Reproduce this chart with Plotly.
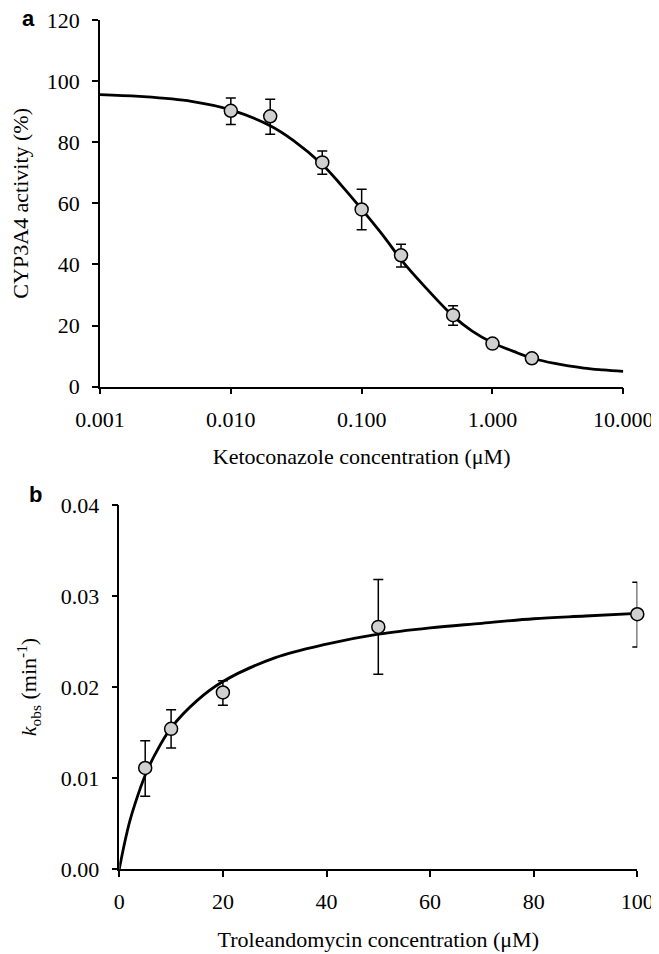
import plotly.graph_objects as go

# panel a: ketoconazole inhibition of CYP3A4
keto_conc = [0.01, 0.02, 0.05, 0.1, 0.2, 0.5, 1.0, 2.0]
keto_activity = [90.3, 88.5, 73.4, 58.0, 43.0, 23.4, 14.1, 9.3]
keto_err_up = [4.2, 5.6, 3.7, 6.6, 3.6, 3.1, 1.0, 0.8]
keto_err_down = [4.5, 5.9, 3.9, 6.6, 3.8, 3.3, 1.0, 0.8]

keto_fit_x = [0.001, 0.002, 0.005, 0.01, 0.02, 0.03, 0.05, 0.07, 0.1, 0.15, 0.2, 0.3,
              0.5, 0.7, 1.0, 1.5, 2.0, 3.0, 5.0, 7.0, 10.0]
keto_fit_y = [95.6, 95.0, 93.4, 90.6, 85.4, 80.6, 72.7, 65.9, 58.1, 48.8, 41.6, 33.0,
              23.1, 18.2, 14.4, 11.3, 9.4, 7.6, 6.1, 5.5, 5.0]

# panel b: troleandomycin kobs
tao_conc = [5, 10, 20, 50, 100]
tao_kobs = [0.0111, 0.0154, 0.0194, 0.0266, 0.0280]
tao_err_up = [0.0030, 0.0021, 0.0013, 0.0052, 0.0035]
tao_err_down = [0.0031, 0.0021, 0.0014, 0.0052, 0.0036]

tao_fit_x = [0, 1, 2, 3, 5, 7, 10, 15, 20, 30, 40, 50, 60, 70, 80, 90, 100]
tao_fit_y = [0, 0.0028, 0.0052, 0.0071, 0.0103, 0.0127, 0.0155, 0.0185, 0.0206, 0.0232,
             0.0247, 0.0258, 0.0265, 0.0270, 0.0275, 0.0278, 0.0281]

keto_ticks = [0.001, 0.01, 0.1, 1, 10]
keto_ticktext = ["0.001", "0.010", "0.100", "1.000", "10.000"]
act_ticks = [0, 20, 40, 60, 80, 100, 120]
tao_ticks = [0, 20, 40, 60, 80, 100]
kobs_ticks = [0, 0.01, 0.02, 0.03, 0.04]

# page has an 8px body margin, so size the figure to the visible area
OFF = 8
W, H = 659 - OFF, 954 - OFF


def px_x(x):
    return (x - OFF) / W


def px_y(y):
    return 1 - (y - OFF) / H


serif = "Liberation Serif, Times New Roman, serif"
tfont = dict(family=serif, size=22, color="black")
marker = dict(symbol="circle", size=13, color="#d0d0d0", line=dict(color="black", width=1.5))

fig = go.Figure()

fig.add_trace(go.Scatter(x=keto_fit_x, y=keto_fit_y, mode="lines", line=dict(color="black", width=2.8, shape="spline"),
                         xaxis="x", yaxis="y", showlegend=False, cliponaxis=False))
fig.add_trace(go.Scatter(x=keto_conc, y=keto_activity, mode="markers", marker=marker,
                         error_y=dict(type="data", array=keto_err_up, arrayminus=keto_err_down, color="black", thickness=1.5, width=5),
                         xaxis="x", yaxis="y", showlegend=False, cliponaxis=False))

fig.add_trace(go.Scatter(x=tao_fit_x, y=tao_fit_y, mode="lines", line=dict(color="black", width=2.8, shape="spline"),
                         xaxis="x2", yaxis="y2", showlegend=False, cliponaxis=False))
fig.add_trace(go.Scatter(x=tao_conc, y=tao_kobs, mode="markers", marker=marker,
                         error_y=dict(type="data", array=tao_err_up, arrayminus=tao_err_down, color="black", thickness=1.5, width=5),
                         xaxis="x2", yaxis="y2", showlegend=False, cliponaxis=False))

axis_common = dict(showline=True, linecolor="black", linewidth=1.5, ticks="outside", ticklen=6, tickwidth=1.5,
                   tickcolor="black", showgrid=False, zeroline=False, automargin=False,
                   ticklabeloverflow="allow", tickfont=tfont)

fig.update_layout(
    width=W, height=H, margin=dict(l=0, r=0, t=0, b=0),
    plot_bgcolor="white", paper_bgcolor="white",
    font=dict(family=serif, size=22, color="black"),
    xaxis=dict(axis_common, type="log", range=[-3, 1], domain=[px_x(100), px_x(623.3)], anchor="y",
               tickmode="array", tickvals=keto_ticks, ticktext=keto_ticktext, ticklabelstandoff=6,
               title=dict(text="Ketoconazole concentration (μM)", standoff=18, font=tfont)),
    yaxis=dict(axis_common, range=[0, 120], tickmode="array", tickvals=act_ticks, ticklabelstandoff=8,
               domain=[px_y(386.7), px_y(20)], anchor="x",
               title=dict(text="CYP3A4 activity (%)", standoff=18, font=tfont)),
    xaxis2=dict(axis_common, range=[0, 100], tickmode="array", tickvals=tao_ticks, ticklabelstandoff=6,
                domain=[px_x(119.3), px_x(637.3)], anchor="y2",
                title=dict(text="Troleandomycin concentration (μM)", standoff=18, font=tfont)),
    yaxis2=dict(axis_common, range=[0, 0.04], tickmode="array", tickvals=kobs_ticks, tickformat=".2f",
                ticklabelstandoff=8, domain=[px_y(869), px_y(505)], anchor="x2",
                title=dict(text="<i>k</i><sub>obs</sub> (min<sup>-1</sup>)", standoff=18, font=tfont)),
    annotations=[
        dict(text="<b>a</b>", x=px_x(28.5), y=px_y(18), xref="paper", yref="paper", showarrow=False,
             xanchor="center", yanchor="middle", font=dict(family="Liberation Sans", size=22, color="black")),
        dict(text="<b>b</b>", x=px_x(35), y=px_y(495), xref="paper", yref="paper", showarrow=False,
             xanchor="center", yanchor="middle", font=dict(family="Liberation Sans", size=22, color="black")),
    ],
)

fig.write_html("out.html")
